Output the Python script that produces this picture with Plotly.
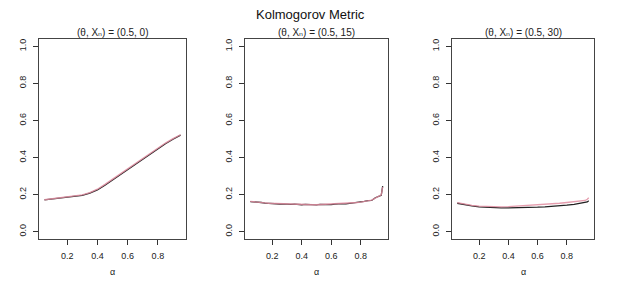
import plotly.graph_objects as go

# ---- data ----
alpha1 = [0.05, 0.10, 0.15, 0.20, 0.25, 0.30, 0.35, 0.40, 0.45, 0.50,
          0.55, 0.60, 0.65, 0.70, 0.75, 0.80, 0.85, 0.90, 0.95]
black1 = [0.171, 0.176, 0.181, 0.186, 0.191, 0.196, 0.208, 0.225, 0.250, 0.278,
          0.306, 0.335, 0.364, 0.393, 0.421, 0.448, 0.474, 0.499, 0.521]
pink1 = [0.172, 0.177, 0.182, 0.187, 0.192, 0.198, 0.211, 0.229, 0.255, 0.283,
         0.311, 0.340, 0.369, 0.398, 0.426, 0.453, 0.478, 0.502, 0.523]

alpha2 = [0.05, 0.075, 0.10, 0.125, 0.15, 0.175, 0.20, 0.225, 0.25, 0.275,
          0.30, 0.325, 0.35, 0.375, 0.40, 0.425, 0.45, 0.475, 0.50, 0.525,
          0.55, 0.575, 0.60, 0.625, 0.65, 0.675, 0.70, 0.725, 0.75, 0.775,
          0.80, 0.825, 0.85, 0.875, 0.90, 0.925, 0.94, 0.95]
black2 = [0.162, 0.159, 0.158, 0.157, 0.154, 0.152, 0.153, 0.150, 0.149, 0.150,
          0.148, 0.147, 0.148, 0.146, 0.145, 0.147, 0.145, 0.146, 0.144, 0.147,
          0.146, 0.148, 0.146, 0.149, 0.148, 0.151, 0.150, 0.152, 0.156, 0.158,
          0.158, 0.163, 0.167, 0.168, 0.183, 0.190, 0.196, 0.245]
pink2 = [0.163, 0.160, 0.158, 0.156, 0.155, 0.153, 0.152, 0.151, 0.150, 0.149,
         0.149, 0.148, 0.147, 0.147, 0.146, 0.146, 0.146, 0.145, 0.145, 0.146,
         0.147, 0.147, 0.147, 0.148, 0.149, 0.150, 0.151, 0.153, 0.155, 0.157,
         0.159, 0.162, 0.166, 0.170, 0.181, 0.191, 0.198, 0.240]

alpha3 = [0.05, 0.10, 0.15, 0.20, 0.25, 0.30, 0.35, 0.40, 0.45, 0.50,
          0.55, 0.60, 0.65, 0.70, 0.75, 0.80, 0.85, 0.90, 0.925, 0.94, 0.95]
black3 = [0.153, 0.145, 0.139, 0.134, 0.131, 0.129, 0.128, 0.128, 0.128, 0.129,
          0.130, 0.132, 0.134, 0.136, 0.139, 0.143, 0.147, 0.153, 0.157, 0.160, 0.166]
pink3 = [0.156, 0.147, 0.141, 0.137, 0.135, 0.134, 0.134, 0.135, 0.137, 0.139,
         0.141, 0.144, 0.147, 0.150, 0.153, 0.157, 0.161, 0.166, 0.168, 0.175, 0.183]

panel_titles = ["(θ, Xₙ) = (0.5, 0)",
                "(θ, Xₙ) = (0.5, 15)",
                "(θ, Xₙ) = (0.5, 30)"]
main_title = "Kolmogorov Metric"
x_label = "α"
y_ticks = [0.0, 0.2, 0.4, 0.6, 0.8, 1.0]
x_ticks = [0.2, 0.4, 0.6, 0.8]

# ---- layout ----
W, H = 619, 288
FONT = "Liberation Sans, Arial, Helvetica, DejaVu Sans, sans-serif"
x_px = [(39, 186), (245, 388), (452, 594)]
y_top, y_bot = 39, 239
ydom = [1 - y_bot / H, 1 - y_top / H]

fig = go.Figure()
series = [(alpha1, black1, pink1), (alpha2, black2, pink2), (alpha3, black3, pink3)]
for i, (a, b, p) in enumerate(series):
    xa = "x" if i == 0 else f"x{i+1}"
    ya = "y" if i == 0 else f"y{i+1}"
    fig.add_trace(go.Scatter(x=a, y=b, mode="lines", xaxis=xa, yaxis=ya,
                             line=dict(color="#222222", width=1.3), showlegend=False,
                             hoverinfo="skip"))
    fig.add_trace(go.Scatter(x=a, y=p, mode="lines", xaxis=xa, yaxis=ya,
                             line=dict(color="rgba(225,140,160,0.85)", width=1.3),
                             showlegend=False, hoverinfo="skip"))

layout = dict(width=W, height=H, margin=dict(l=0, r=0, t=0, b=0),
              paper_bgcolor="white", plot_bgcolor="white",
              font=dict(family=FONT, size=9, color="#222"))
annotations = []
for i, (x0, x1) in enumerate(x_px):
    suf = "" if i == 0 else str(i + 1)
    layout["xaxis" + suf] = dict(
        domain=[x0 / W, x1 / W], range=[0.014, 0.986], anchor="y" + suf,
        tickvals=x_ticks, ticktext=[f"{v:.1f}" for v in x_ticks],
        ticks="outside", ticklen=5, tickcolor="#333", tickwidth=1,
        showline=True, mirror=True, linecolor="#444", linewidth=1,
        showgrid=False, zeroline=False, tickfont=dict(size=9, color="#222"),
        ticklabelstandoff=3)
    layout["yaxis" + suf] = dict(
        domain=ydom, range=[-0.04, 1.04], anchor="x" + suf,
        tickvals=y_ticks, ticktext=[f"{v:.1f}" for v in y_ticks],
        ticks="outside", ticklen=5, tickcolor="#333", tickwidth=1,
        showline=True, mirror=True, linecolor="#444", linewidth=1,
        showgrid=False, zeroline=False, tickangle=-90,
        tickfont=dict(size=9, color="#222"), ticklabelstandoff=3)
    cx = (x0 + x1) / 2 / W
    annotations.append(dict(text=panel_titles[i], x=cx, y=1 - 32 / H,
                            xref="paper", yref="paper", showarrow=False,
                            xanchor="center", yanchor="middle",
                            font=dict(size=10, color="#222")))
    annotations.append(dict(text=x_label, x=cx, y=1 - 272 / H,
                            xref="paper", yref="paper", showarrow=False,
                            xanchor="center", yanchor="middle",
                            font=dict(size=9, color="#222")))
annotations.append(dict(text=main_title, x=310 / W, y=1 - 14 / H,
                        xref="paper", yref="paper", showarrow=False,
                        xanchor="center", yanchor="middle",
                        font=dict(size=13, color="#111")))
layout["annotations"] = annotations
fig.update_layout(**layout)
fig.write_html("out.html", config={"displayModeBar": False},
               post_script="document.body.style.margin='0';document.body.style.overflow='hidden';")
